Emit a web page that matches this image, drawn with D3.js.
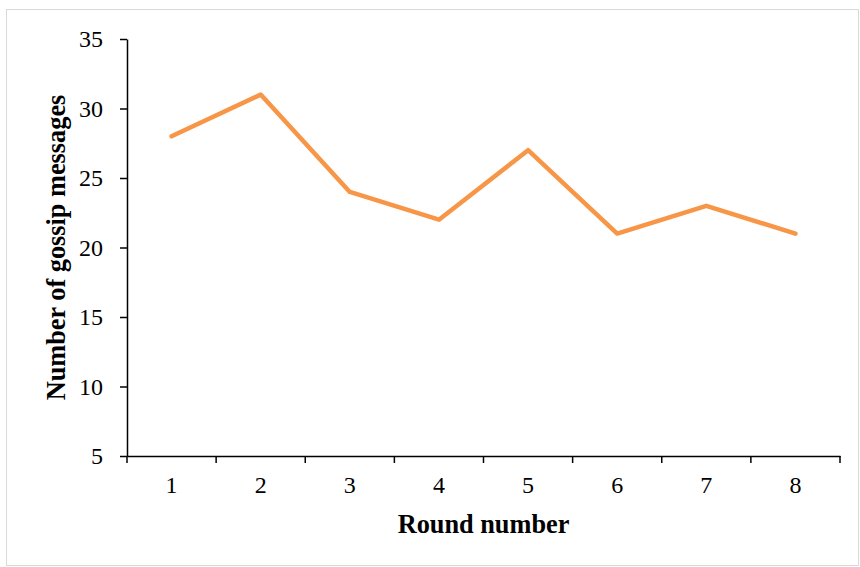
<!DOCTYPE html>
<html><head><meta charset="utf-8">
<script src="https://cdn.jsdelivr.net/npm/d3@7/dist/d3.min.js"></script>
<style>body{margin:0;background:#fff}svg{display:block}</style>
</head><body><svg id="c" width="860" height="567"></svg>
<script>
const rounds = ["1","2","3","4","5","6","7","8"];
const gossip = [28, 31, 24, 22, 27, 21, 23, 21];
const yTicks = [5, 10, 15, 20, 25, 30, 35];
const xTitle = "Round number";
const yTitle = "Number of gossip messages";

const svg = d3.select("#c");
svg.append("rect").attr("x",6.5).attr("y",9.5).attr("width",852).attr("height",556)
  .attr("fill","#fff").attr("stroke","#d9d9d9").attr("stroke-width",1);

const L=127, R=840, T=39, B=456;
const x = d3.scaleBand().domain(rounds).range([L,R]).padding(0);
const y = d3.scaleLinear().domain([5,35]).range([B,T]);
const font = "'Liberation Serif','Times New Roman',serif";

// y axis
const gy = svg.append("g").attr("transform",`translate(${L},0)`)
  .call(d3.axisLeft(y).tickValues(yTicks).tickSize(7).tickPadding(17).tickSizeOuter(0));
gy.select(".domain").attr("stroke","#000").attr("stroke-width",1.5);
gy.selectAll(".tick line").attr("stroke","#000").attr("stroke-width",1.5);
gy.selectAll(".tick text").attr("font-family",font).attr("font-size",24).attr("fill","#000");

// x axis
const gx = svg.append("g").attr("transform",`translate(0,${B})`)
  .call(d3.axisBottom(x).tickSize(0).tickPadding(20));
gx.select(".domain").attr("stroke","#000").attr("stroke-width",1.5);
gx.selectAll(".tick text").attr("font-family",font).attr("font-size",24).attr("fill","#000");
// boundary ticks between categories
const bounds = rounds.map(r=>x(r)).concat([x(rounds[rounds.length-1])+x.bandwidth()]);
gx.selectAll(".btick").data(bounds).enter().append("line")
  .attr("x1",d=>d).attr("x2",d=>d).attr("y1",0).attr("y2",7)
  .attr("stroke","#000").attr("stroke-width",1.5);

// line
const line = d3.line().x((d,i)=>x(rounds[i])+x.bandwidth()/2).y(d=>y(d));
svg.append("path").datum(gossip).attr("d",line).attr("fill","none")
  .attr("stroke","#f79646").attr("stroke-width",4.5)
  .attr("stroke-linecap","round").attr("stroke-linejoin","round");

// titles
svg.append("text").attr("x",(L+R)/2).attr("y",533).attr("text-anchor","middle")
  .attr("font-family",font).attr("font-size",26.3).attr("font-weight","bold").text(xTitle);
svg.append("text").attr("transform",`translate(65,${(T+B)/2}) rotate(-90)`)
  .attr("text-anchor","middle").attr("font-family",font).attr("font-size",26.3)
  .attr("font-weight","bold").text(yTitle);
</script></body></html>
